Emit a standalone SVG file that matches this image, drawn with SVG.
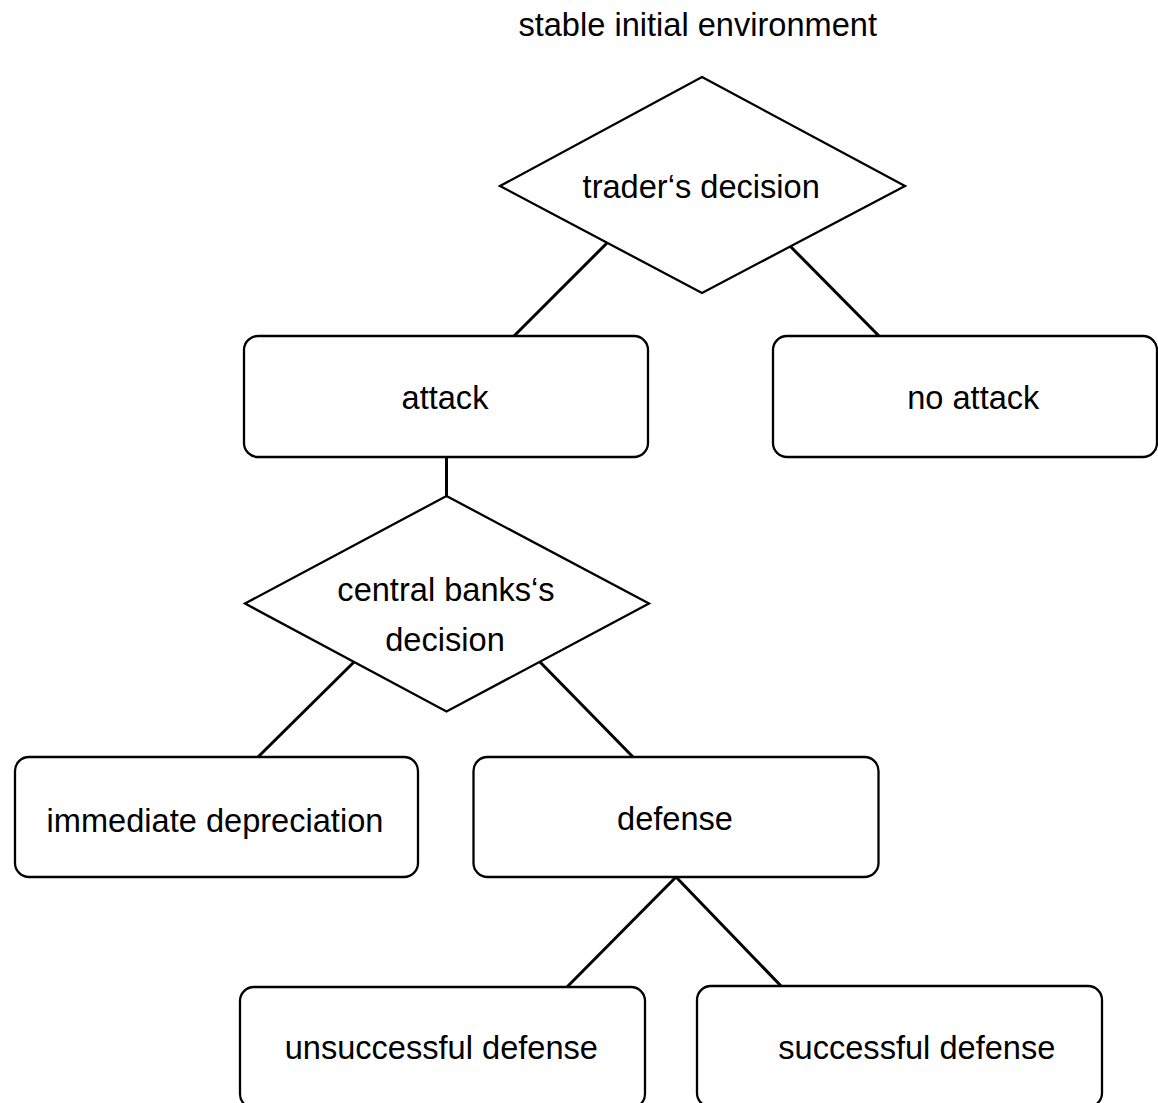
<svg xmlns="http://www.w3.org/2000/svg" width="1158" height="1103" viewBox="0 0 1158 1103">
<style>
.box{fill:#fff;stroke:#000;stroke-width:2.3}
.dia{fill:#fff;stroke:#000;stroke-width:2.3;stroke-linejoin:miter}
.lbl{font-family:"Liberation Sans",Arial,sans-serif;font-size:32.6px;fill:#000;text-anchor:middle}
.conn line{stroke:#000;stroke-width:3;stroke-linecap:butt}
</style>
<rect width="1158" height="1103" fill="#fff"/>
<g id="connectors" class="conn">
<line x1="607" y1="243" x2="513" y2="337"/>
<line x1="790" y1="246" x2="880" y2="337"/>
<line x1="446.5" y1="457" x2="446.5" y2="497"/>
<line x1="354" y1="662" x2="258" y2="757"/>
<line x1="540" y1="662" x2="633" y2="757"/>
<line x1="676" y1="877" x2="566" y2="988"/>
<line x1="676" y1="877" x2="782" y2="987"/>
</g>
<g id="title"><text class="lbl" x="697.7" y="36">stable initial environment</text></g>
<g id="traders-decision">
<polygon class="dia" points="702,77 905,186 702,293 500,186"/>
<text class="lbl" x="701.2" y="197.5">trader‘s decision</text>
</g>
<g id="attack">
<rect class="box" x="244" y="336" width="404" height="121" rx="14" ry="14"/>
<text class="lbl" x="445" y="409">attack</text>
</g>
<g id="no-attack">
<rect class="box" x="773" y="336" width="384" height="121" rx="14" ry="14"/>
<text class="lbl" x="973.3" y="408.5">no attack</text>
</g>
<g id="central-banks-decision">
<polygon class="dia" points="446.5,496 649,603.5 446.5,711.5 245,603.5"/>
<text class="lbl" x="446" y="601">central banks‘s</text>
<text class="lbl" x="445" y="651">decision</text>
</g>
<g id="immediate-depreciation">
<rect class="box" x="15" y="757" width="403" height="120" rx="14" ry="14"/>
<text class="lbl" x="215" y="831.5">immediate depreciation</text>
</g>
<g id="defense">
<rect class="box" x="473.5" y="757" width="405" height="120" rx="14" ry="14"/>
<text class="lbl" x="675" y="829.5">defense</text>
</g>
<g id="unsuccessful-defense">
<rect class="box" x="240" y="987" width="405" height="121" rx="14" ry="14"/>
<text class="lbl" x="441.3" y="1059">unsuccessful defense</text>
</g>
<g id="successful-defense">
<rect class="box" x="697" y="986" width="405" height="121" rx="14" ry="14"/>
<text class="lbl" x="916.8" y="1059">successful defense</text>
</g>
</svg>
